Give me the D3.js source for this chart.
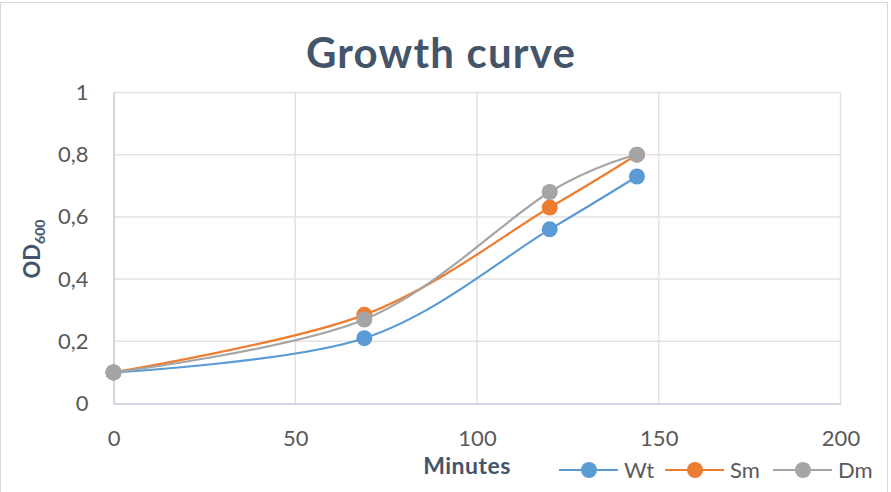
<!DOCTYPE html>
<html>

<head>
  <title>Growth curve</title>
</head>

<style>
  body,
  html {
    margin: 0;
    padding: 0;
    background: #fff;
  }

  #svg {
    display: block;
    font-family: Lato, "Open Sans", sans-serif;
  }
</style>

<body>

  <svg id="svg" width="891" height="492"></svg>

  <script src="https://d3js.org/d3.v7.min.js"></script>
  <script>

    // data
    const minutes = [0, 69, 120, 144]
    const wt = [0.1, 0.21, 0.56, 0.73]
    const sm = [0.1, 0.285, 0.63, 0.8]
    const dm = [0.1, 0.27, 0.68, 0.8]
    const seriesNames = ['Wt', 'Sm', 'Dm']
    const xTicks = [0, 50, 100, 150, 200]
    const yTicks = [0, 0.2, 0.4, 0.6, 0.8, 1]

    const colors = ['#5b9bd5', '#ed7d31', '#a5a5a5']
    const series = [wt, sm, dm].map((vals, i) => ({
      name: seriesNames[i],
      color: colors[i],
      points: vals.map((v, j) => ({ x: minutes[j], y: v }))
    }))

    const svg = d3.select('#svg')

    // outer chart border
    svg.append('rect')
      .attr('x', 0.5).attr('y', 2.5)
      .attr('width', 887).attr('height', 500)
      .attr('fill', '#fff')
      .attr('stroke', '#d9d9d9')

    const xscale = d3.scaleLinear().domain([0, 200]).range([113.5, 840.5])
    const yscale = d3.scaleLinear().domain([0, 1]).range([403.5, 92.5])

    // grid lines
    svg.append('g')
      .selectAll('line.h')
      .data(yTicks.slice(1))
      .join('line')
      .attr('x1', xscale(0)).attr('x2', xscale(200))
      .attr('y1', d => yscale(d)).attr('y2', d => yscale(d))
      .attr('stroke', '#e3e3e3').attr('stroke-width', 1.5)

    svg.append('g')
      .selectAll('line.v')
      .data(xTicks.slice(1))
      .join('line')
      .attr('x1', d => xscale(d)).attr('x2', d => xscale(d))
      .attr('y1', yscale(0)).attr('y2', yscale(1))
      .attr('stroke', '#e3e3e3').attr('stroke-width', 1.5)

    // axes
    const fmt = d => d3.format('~g')(d).replace('.', ',')

    const xAxis = svg.append('g')
      .attr('transform', `translate(0,${yscale(0)})`)
      .call(d3.axisBottom(xscale).tickValues(xTicks).tickSize(0).tickPadding(27).tickFormat(fmt))
    xAxis.select('.domain').attr('stroke', '#c5cad6').attr('stroke-width', 1.5)
    xAxis.selectAll('text')
      .attr('fill', '#595959')
      .style('font-size', '22px')
      .style('font-family', 'Lato, sans-serif')

    const yAxis = svg.append('g')
      .attr('transform', `translate(${xscale(0)},0)`)
      .call(d3.axisLeft(yscale).tickValues(yTicks).tickSize(0).tickPadding(25).tickFormat(fmt))
    yAxis.select('.domain').attr('stroke', '#c5cad6').attr('stroke-width', 1.5)
    yAxis.selectAll('text')
      .attr('fill', '#595959')
      .style('font-size', '22px')
      .style('font-family', 'Lato, sans-serif')

    // lines
    const linegen = d3.line()
      .x(d => xscale(d.x))
      .y(d => yscale(d.y))
      .curve(d3.curveCardinal.tension(0))

    series.forEach(s => {
      svg.append('path')
        .attr('d', linegen(s.points))
        .attr('fill', 'none')
        .attr('stroke', s.color)
        .attr('stroke-width', 2.2)
    })

    series.forEach(s => {
      svg.append('g')
        .selectAll('circle')
        .data(s.points)
        .join('circle')
        .attr('cx', d => xscale(d.x))
        .attr('cy', d => yscale(d.y))
        .attr('r', 8)
        .attr('fill', s.color)
    })

    // title
    svg.append('text')
      .attr('x', 441).attr('y', 68)
      .attr('text-anchor', 'middle')
      .attr('fill', '#44546a')
      .style('font-size', '42px')
      .style('font-weight', 'bold')
      .style('letter-spacing', '1.2px')
      .text('Growth curve')

    // axis titles
    svg.append('text')
      .attr('x', 467).attr('y', 474)
      .attr('text-anchor', 'middle')
      .attr('fill', '#44546a')
      .style('font-size', '23px')
      .style('font-weight', 'bold')
      .style('letter-spacing', '0.5px')
      .text('Minutes')

    const yTitle = svg.append('text')
      .attr('transform', 'translate(40,249) rotate(-90)')
      .attr('text-anchor', 'middle')
      .attr('fill', '#44546a')
      .style('font-size', '22px')
      .style('font-weight', 'bold')
    yTitle.append('tspan').text('OD')
    yTitle.append('tspan').attr('dy', 5).style('font-size', '14px').text('600')

    // legend
    const legend = svg.append('g').attr('transform', 'translate(0,470)')
    const legendX = [559, 665, 773]
    series.forEach((s, i) => {
      const g = legend.append('g').attr('transform', `translate(${legendX[i]},0)`)
      g.append('line')
        .attr('x1', 0).attr('x2', 59)
        .attr('stroke', s.color).attr('stroke-width', 2.2)
      g.append('circle')
        .attr('cx', 30).attr('r', 8).attr('fill', s.color)
      g.append('text')
        .attr('x', 65).attr('y', 8)
        .attr('fill', '#595959')
        .style('font-size', '22px')
        .text(s.name)
    })

  </script>

</body>

</html>
